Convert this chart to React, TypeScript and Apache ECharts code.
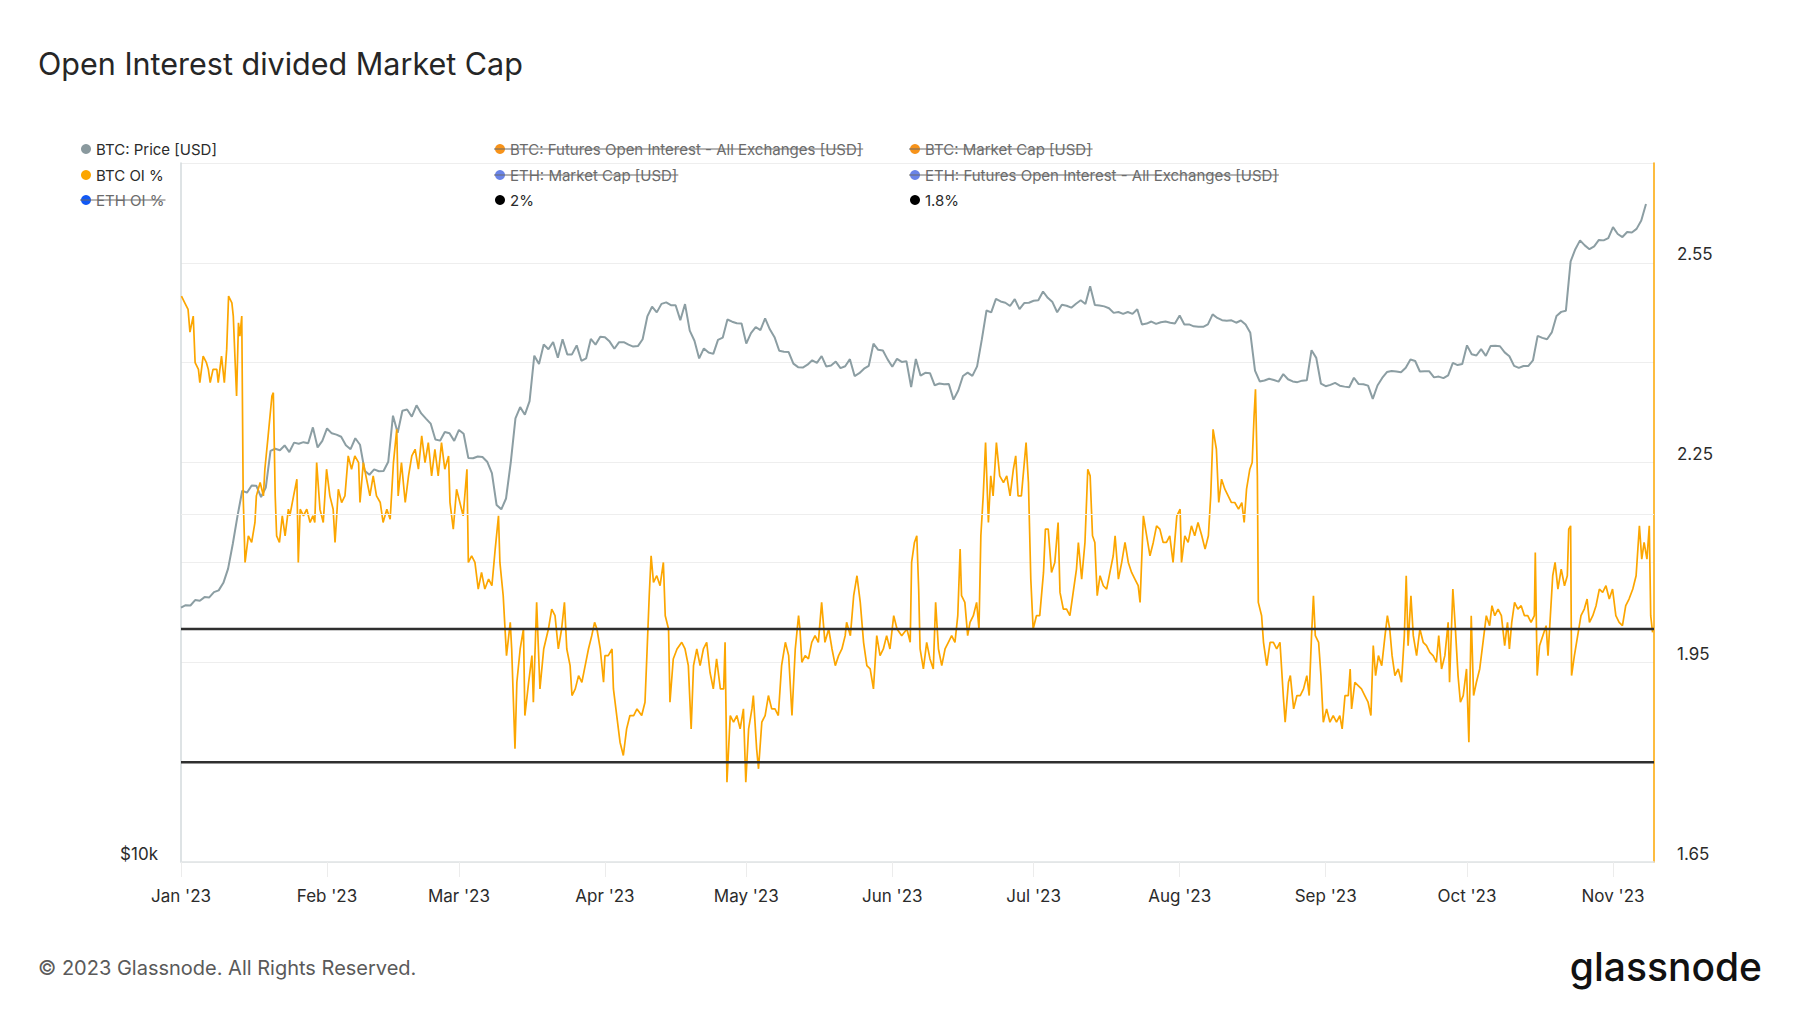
import React, { useEffect, useRef } from 'react';
import * as echarts from 'echarts';

// ---------- DATA ----------
const START = Date.UTC(2023, 0, 1);
const DAY = 86400000;
const X_END_DAY = 312.7;

const titleText = 'Open Interest divided Market Cap';
const footerText = '\u00A9 2023 Glassnode. All Rights Reserved.';
const logoText = 'glassnode';
const monthNames = ['Jan', 'Feb', 'Mar', 'Apr', 'May', 'Jun', 'Jul', 'Aug', 'Sep', 'Oct', 'Nov', 'Dec'];

// BTC price (USD), daily from 2023-01-01
const priceJan = [16600, 16680, 16670, 16850, 16830, 16950, 16940, 17120, 17180, 17440, 17940, 18850, 19930, 20950, 20870, 21170, 21160, 20690, 21080, 22680, 22780, 22710, 22930, 22630, 23060, 23010, 23080, 23030, 23770, 22840, 23140];
const priceFeb = [23720, 23490, 23430, 23330, 22940, 22760, 23260, 22960, 21800, 21630, 21860, 21780, 21790, 22200, 24330, 23520, 24570, 24630, 24280, 24840, 24440, 24190, 23950, 23200, 23150, 23550, 23490, 23140];
const priceMar = [23650, 23470, 22360, 22350, 22430, 22410, 22200, 21700, 20360, 20190, 20630, 22160, 24200, 24750, 24380, 25050, 27420, 26970, 28040, 27770, 28180, 27310, 28330, 27490, 27490, 27990, 27140, 27270, 28350, 28030, 28480];
const priceApr = [28450, 28200, 27800, 28170, 28170, 28030, 27920, 27950, 28330, 29650, 30230, 29890, 30400, 30490, 30320, 30320, 29430, 30390, 28820, 28250, 27270, 27820, 27590, 27520, 28300, 28420, 29470, 29340, 29250, 29230];
const priceMay = [28090, 28680, 29030, 28850, 29530, 28900, 28450, 27690, 27630, 27620, 26990, 26800, 26780, 26930, 27170, 27030, 27400, 26830, 26890, 27100, 26750, 26850, 27230, 26330, 26480, 26720, 26870, 28080, 27740, 27700, 27220];
const priceJun = [26820, 27250, 27080, 27120, 25760, 27240, 26350, 26500, 26480, 25850, 25940, 25900, 25920, 25120, 25580, 26330, 26510, 26340, 26840, 28310, 30000, 29890, 30700, 30550, 30470, 30270, 30690, 30080, 30450, 30470];
const priceJul = [30590, 30620, 31160, 30770, 30510, 29900, 30350, 30290, 30170, 30410, 30620, 30390, 31480, 30330, 30300, 30250, 30140, 29860, 29910, 29800, 29910, 29800, 30080, 29180, 29230, 29350, 29210, 29310, 29350, 29280, 29230];
const priceAug = [29700, 29180, 29180, 29070, 29050, 29040, 29180, 29770, 29560, 29430, 29400, 29420, 29280, 29410, 29170, 28700, 26620, 26050, 26100, 26190, 26120, 26040, 26430, 26160, 26050, 26010, 26090, 26110, 27720, 27300, 25930];
const priceSep = [25800, 25870, 25970, 25830, 25780, 25750, 26240, 25910, 25900, 25830, 25160, 25840, 26230, 26540, 26600, 26570, 26530, 26770, 27210, 27130, 26570, 26580, 26580, 26260, 26300, 26220, 26370, 27030, 26910, 26970];
const priceOct = [27990, 27500, 27430, 27780, 27410, 27950, 27970, 27940, 27600, 27390, 26870, 26760, 26860, 26860, 27160, 28520, 28410, 28330, 28720, 29680, 29920, 29990, 33090, 33900, 34500, 34160, 33900, 34090, 34530, 34500, 34660];
const priceNov = [35420, 34940, 34730, 35080, 35050, 35300, 35900, 37100];

// BTC OI % : [day offset from 2023-01-01, percent]
const oiQ1 = [[0.1,2.50],[0.8,2.49],[1.5,2.48],[1.9,2.446],[2.6,2.47],[3.0,2.40],[3.7,2.39],[4.0,2.37],[4.7,2.41],[5.4,2.40],[5.8,2.39],[6.2,2.37],[6.8,2.39],[7.6,2.39],[7.9,2.37],[8.6,2.41],[9.2,2.37],[9.7,2.42],[10.1,2.50],[10.8,2.49],[11.1,2.47],[11.5,2.40],[11.8,2.35],[12.2,2.46],[12.5,2.44],[12.9,2.47],[13.2,2.20],[13.6,2.10],[14.3,2.14],[15.0,2.13],[15.7,2.16],[16.0,2.20],[16.8,2.22],[17.5,2.20],[17.8,2.24],[18.5,2.29],[19.3,2.35],[19.6,2.355],[20.0,2.20],[20.3,2.14],[20.9,2.13],[21.5,2.17],[22.1,2.14],[22.8,2.18],[23.1,2.17],[23.9,2.20],[24.6,2.225],[24.9,2.10],[25.3,2.18],[26.0,2.17],[26.7,2.18],[27.4,2.16],[28.0,2.17],[28.4,2.16],[28.8,2.25],[29.5,2.18],[30.2,2.16],[30.9,2.24],[31.6,2.20],[32.3,2.18],[32.7,2.13],[33.4,2.21],[34.1,2.19],[34.8,2.20],[35.5,2.26],[36.2,2.24],[36.9,2.26],[37.7,2.25],[38.0,2.19],[38.7,2.25],[39.4,2.225],[40.1,2.20],[40.8,2.23],[41.5,2.20],[42.3,2.19],[42.9,2.16],[43.7,2.18],[44.4,2.165],[45.1,2.25],[45.8,2.30],[46.1,2.20],[46.8,2.25],[47.6,2.19],[48.3,2.23],[49.0,2.26],[49.7,2.27],[50.4,2.24],[51.1,2.29],[51.8,2.25],[52.5,2.28],[53.2,2.23],[53.9,2.27],[54.6,2.23],[55.3,2.28],[56.0,2.24],[56.8,2.26],[57.1,2.19],[57.8,2.15],[58.5,2.21],[59.2,2.19],[59.9,2.17],[60.7,2.24],[61.0,2.10],[61.7,2.11],[62.4,2.10],[63.1,2.06],[63.8,2.085],[64.5,2.06],[65.3,2.075],[66.0,2.065],[66.7,2.12],[67.4,2.17],[67.7,2.10],[68.4,2.05],[69.1,1.96],[69.9,2.01],[70.2,1.97],[70.9,1.82],[71.3,1.92],[72.0,1.97],[72.7,2.00],[73.0,1.87],[73.8,1.92],[74.5,1.96],[74.8,1.89],[75.5,2.04],[76.2,1.91],[77.0,1.97],[78.0,2.00],[78.7,2.03],[79.4,2.02],[80.1,1.97],[80.8,2.00],[81.4,2.04],[81.9,1.97],[82.6,1.945],[83.0,1.90],[83.7,1.91],[84.4,1.93],[85.1,1.92],[85.8,1.945],[86.5,1.97],[87.2,1.99],[87.8,2.01],[88.3,2.00],[89.0,1.97]];
const oiQ2 = [[89.7,1.92],[90.0,1.96],[90.7,1.96],[91.5,1.97],[91.8,1.91],[92.5,1.87],[93.2,1.83],[93.9,1.81],[94.6,1.85],[95.3,1.87],[96.1,1.87],[96.8,1.88],[97.8,1.87],[98.5,1.89],[98.9,1.96],[99.4,2.05],[99.8,2.11],[100.3,2.07],[101.0,2.08],[101.7,2.065],[102.4,2.10],[102.8,2.02],[103.5,2.00],[103.8,1.89],[104.5,1.955],[105.3,1.97],[106.3,1.98],[107.0,1.97],[107.7,1.945],[108.3,1.85],[108.8,1.945],[109.5,1.97],[110.2,1.945],[110.9,1.97],[111.6,1.98],[112.3,1.935],[113.0,1.91],[113.7,1.955],[114.5,1.91],[115.2,1.91],[115.5,1.98],[115.9,1.77],[116.6,1.87],[117.3,1.86],[118.0,1.87],[118.7,1.85],[119.4,1.88],[119.9,1.77],[120.5,1.85],[121.2,1.88],[121.5,1.90],[122.2,1.82],[122.6,1.79],[123.3,1.86],[124.0,1.87],[124.7,1.90],[125.4,1.88],[126.1,1.88],[126.8,1.87],[127.5,1.945],[128.3,1.98],[129.0,1.96],[129.7,1.87],[130.4,1.97],[131.1,2.02],[131.4,2.00],[131.8,1.95],[132.5,1.96],[133.2,1.955],[133.9,1.98],[134.6,1.99],[135.3,1.98],[136.0,2.04],[136.7,1.98],[137.5,2.00],[138.2,1.97],[138.9,1.945],[139.6,1.96],[140.3,1.97],[141.0,1.99],[141.3,2.01],[142.1,1.99],[142.8,2.05],[143.5,2.08],[144.2,2.04],[144.9,1.98],[145.6,1.945],[146.3,1.94],[147.0,1.91],[147.7,1.99],[148.4,1.96],[149.1,1.97],[149.8,1.99],[150.5,1.97],[151.3,2.02],[152.0,2.00],[153.0,1.99],[154.1,2.00],[154.8,1.98],[155.1,2.10],[155.7,2.13],[156.2,2.14],[156.6,2.06],[156.9,1.97],[157.6,1.94],[158.3,1.98],[159.0,1.955],[159.7,1.94],[160.2,2.04],[160.8,1.97],[161.5,1.945],[162.2,1.97],[162.9,1.98],[163.6,1.99],[164.3,1.98],[164.9,2.02],[165.4,2.12],[165.7,2.05],[166.4,2.04],[167.0,1.99],[167.5,2.01],[168.2,2.02],[168.9,2.04],[169.4,2.00],[169.8,2.14],[170.3,2.20],[170.8,2.28],[171.4,2.16],[171.9,2.23],[172.4,2.20],[173.1,2.28],[173.8,2.23],[174.6,2.22],[175.3,2.23],[176.0,2.20],[176.7,2.24],[177.2,2.26],[177.7,2.20],[178.4,2.20],[179.4,2.28],[179.9,2.22],[180.4,2.075]];
const oiQ3 = [[180.9,2.00],[181.6,2.02],[182.3,2.02],[183.1,2.085],[183.5,2.15],[184.1,2.15],[184.8,2.085],[185.5,2.10],[186.2,2.16],[186.6,2.055],[187.3,2.03],[188.0,2.03],[188.7,2.02],[189.4,2.055],[190.1,2.09],[190.5,2.13],[191.2,2.075],[191.9,2.13],[192.5,2.24],[193.0,2.23],[193.5,2.14],[194.0,2.13],[194.5,2.05],[195.1,2.08],[195.8,2.065],[196.5,2.06],[197.2,2.085],[197.9,2.11],[198.3,2.14],[199.0,2.075],[199.7,2.10],[200.4,2.13],[201.1,2.10],[201.8,2.085],[202.5,2.075],[203.2,2.065],[203.6,2.04],[204.3,2.17],[205.0,2.14],[205.7,2.11],[206.4,2.13],[207.1,2.155],[207.8,2.15],[208.5,2.13],[209.2,2.13],[209.9,2.14],[210.6,2.10],[211.4,2.17],[212.1,2.18],[212.4,2.10],[213.1,2.14],[213.8,2.13],[214.5,2.155],[215.2,2.14],[215.9,2.16],[216.7,2.14],[217.4,2.12],[218.1,2.14],[218.6,2.20],[219.1,2.30],[219.8,2.27],[220.3,2.19],[220.9,2.225],[221.6,2.21],[222.3,2.20],[223.0,2.19],[223.7,2.19],[224.5,2.18],[225.2,2.19],[225.7,2.16],[226.2,2.21],[226.9,2.24],[227.4,2.25],[227.8,2.32],[228.1,2.36],[228.5,2.23],[228.7,2.04],[229.4,2.02],[229.8,1.98],[230.5,1.945],[231.2,1.98],[231.9,1.98],[232.6,1.97],[233.3,1.98],[234.0,1.90],[234.4,1.86],[235.1,1.92],[235.5,1.93],[236.2,1.88],[236.9,1.90],[237.6,1.90],[238.3,1.91],[239.0,1.93],[239.5,1.90],[240.0,1.99],[240.4,2.05],[240.8,1.99],[241.5,1.98],[242.0,1.93],[242.5,1.86],[243.2,1.88],[243.9,1.86],[244.6,1.87],[245.3,1.86],[246.0,1.87],[246.5,1.85],[247.1,1.90],[247.8,1.90],[248.2,1.94],[248.5,1.88],[249.2,1.92],[249.9,1.915],[250.6,1.91],[251.3,1.90],[252.0,1.89],[252.6,1.87],[253.1,1.975],[253.6,1.93],[254.2,1.96],[254.9,1.945],[255.6,1.99],[256.1,2.02],[256.6,2.00],[257.1,1.96],[257.7,1.93],[258.4,1.94],[259.1,1.92],[259.7,1.99],[260.1,2.08],[260.5,1.975],[261.1,2.05],[261.6,1.99],[262.3,1.96],[263.0,2.00],[263.7,1.98],[264.4,1.975],[265.1,1.965],[265.8,1.96],[266.5,1.95],[267.0,1.99],[267.6,1.94],[268.3,1.96],[269.0,2.01],[269.3,1.92],[270.0,2.06],[270.5,2.005],[271.1,1.93],[271.6,1.89],[272.2,1.90]];
const oiQ4 = [[272.9,1.94],[273.4,1.83],[273.9,2.02],[274.4,1.90],[275.0,1.92],[275.7,1.94],[276.4,1.98],[277.1,2.02],[277.8,2.005],[278.3,2.035],[278.9,2.02],[279.6,2.03],[280.3,2.02],[281.0,1.975],[281.6,2.01],[282.0,1.97],[282.5,2.01],[283.1,2.04],[283.8,2.03],[284.5,2.035],[285.2,2.02],[285.9,2.02],[286.6,2.01],[287.3,2.02],[287.5,2.115],[287.9,1.93],[288.4,1.975],[289.1,1.99],[289.8,2.005],[290.2,1.96],[290.7,2.02],[291.2,2.08],[291.7,2.10],[292.3,2.06],[293.0,2.09],[293.7,2.065],[294.3,2.08],[294.6,2.15],[295.0,2.155],[295.2,1.93],[295.8,1.96],[296.5,1.99],[297.2,2.02],[297.9,2.03],[298.5,2.045],[299.0,2.01],[299.7,2.02],[300.4,2.035],[301.1,2.06],[301.8,2.055],[302.5,2.065],[303.2,2.045],[303.9,2.06],[304.6,2.02],[305.3,2.01],[306.0,2.005],[306.7,2.035],[307.4,2.045],[308.2,2.06],[308.9,2.08],[309.6,2.155],[310.1,2.105],[310.6,2.13],[311.2,2.105],[311.7,2.155],[312.0,2.02],[312.4,1.995]];

const level2 = 2.0;
const level18 = 1.8;
const priceGridLevels = [20000];

const legendLabels = ['BTC: Price [USD]', 'BTC: Futures Open Interest - All Exchanges [USD]', 'BTC: Market Cap [USD]', 'BTC OI %', 'ETH: Market Cap [USD]', 'ETH: Futures Open Interest - All Exchanges [USD]', 'ETH OI %', '2%', '1.8%'];
const legendColors = ['#8a999e', '#f7931a', '#f7931a', '#fca600', '#6a84e8', '#6a84e8', '#1158f5', '#000000', '#000000'];
const legendActive = [true, false, false, true, false, false, false, true, true];

// ---------- STYLE ----------
const FONT = 'Inter, "Noto Sans", sans-serif';
const PRICE_COLOR = '#8c9ea3';
const OI_COLOR = '#fca600';
const LEVEL_COLOR = '#2f2f2f';
const AXIS_FONT_SIZE = 17;

function measure(text: string, font: string): number {
  const c = document.createElement('canvas').getContext('2d');
  if (!c) return text.length * 7.5;
  c.font = font;
  return c.measureText(text).width;
}

export default function App() {
  const ref = useRef<HTMLDivElement>(null);
  useEffect(() => {
    if (!ref.current) return;
    const chart = echarts.init(ref.current, undefined, { renderer: 'svg' });

    const prices = [...priceJan, ...priceFeb, ...priceMar, ...priceApr, ...priceMay, ...priceJun, ...priceJul, ...priceAug, ...priceSep, ...priceOct, ...priceNov];
    const priceData = prices.map((p, i) => [START + i * DAY, p]);
    const oi = [...oiQ1, ...oiQ2, ...oiQ3, ...oiQ4];
    const oiData = oi.map(([d, v]) => [START + d * DAY, v]);
    const xMax = START + X_END_DAY * DAY;

    // legend as graphic (strike-through for hidden series)
    const colX = [86, 500, 915];
    const rowY = [149, 175, 200];
    const legendFont = '15px Inter';
    const legendEls: any[] = [];
    legendLabels.forEach((lab, i) => {
      const cx = colX[i % 3];
      const cy = rowY[Math.floor(i / 3)];
      const tx = cx + 10;
      legendEls.push({ type: 'circle', shape: { cx, cy, r: 5 }, style: { fill: legendColors[i] }, silent: true });
      legendEls.push({
        type: 'text', x: tx, y: cy,
        style: { text: lab, fill: legendActive[i] ? '#2b2b2b' : '#6b6b6b', fontFamily: FONT, fontSize: 15, verticalAlign: 'middle', align: 'left' },
        silent: true,
      });
      if (!legendActive[i]) {
        const w = measure(lab, legendFont);
        legendEls.push({ type: 'line', shape: { x1: cx - 6, y1: cy, x2: tx + w + 1, y2: cy }, style: { stroke: '#6b6b6b', lineWidth: 1 }, silent: true });
      }
    });

    const option: any = {
      animation: false,
      useUTC: true,
      backgroundColor: '#ffffff',
      title: {
        text: titleText, left: 38, top: 48, padding: 0,
        textStyle: { fontFamily: FONT, fontSize: 30.5, fontWeight: 400, color: '#262626' },
      },
      grid: { left: 181, right: 146, top: 163, bottom: 151, containLabel: false },
      xAxis: {
        type: 'time', min: START, max: xMax,
        splitNumber: 11, minInterval: 28 * DAY, maxInterval: 31 * DAY,
        axisLine: { show: true, lineStyle: { color: '#dfe3e5', width: 1.5 } },
        axisTick: { show: true, length: 15, lineStyle: { color: '#ececec', width: 1 } },
        splitLine: { show: false },
        axisLabel: {
          fontFamily: FONT, fontSize: AXIS_FONT_SIZE, color: '#2b2b2b', margin: 25, showMaxLabel: false,
          formatter: (v: number) => {
            const d = new Date(v);
            return monthNames[d.getUTCMonth()] + " '" + String(d.getUTCFullYear()).slice(2);
          },
        },
      },
      yAxis: [
        {
          type: 'log', logBase: 10, min: 10000, max: 40250, position: 'left',
          axisLine: { show: true, lineStyle: { color: '#d3dadd', width: 1.5 } },
          axisTick: { show: false }, splitLine: { show: false },
          axisLabel: {
            fontFamily: FONT, fontSize: AXIS_FONT_SIZE, color: '#2b2b2b', margin: 23, verticalAlign: 'bottom',
            formatter: (v: number) => (Math.abs(v - 10000) < 1 ? '$10k' : ''),
          },
        },
        {
          type: 'value', min: 1.65, max: 2.7, interval: 0.15, position: 'right',
          axisLine: { show: true, lineStyle: { color: OI_COLOR, width: 1.5 } },
          axisTick: { show: false },
          splitLine: { show: true, lineStyle: { color: '#eeeeee', width: 1 } },
          axisLabel: {
            fontFamily: FONT, fontSize: AXIS_FONT_SIZE, color: '#2b2b2b', margin: 23, verticalAlign: 'bottom',
            formatter: (v: number) => {
              const k = Math.round((v - 1.65) / 0.15);
              return k % 2 === 0 && k < 7 ? v.toFixed(2) : '';
            },
          },
        },
      ],
      series: [
        {
          name: 'BTC: Price [USD]', type: 'line', yAxisIndex: 0, data: priceData,
          showSymbol: false, symbol: 'none', z: 2,
          lineStyle: { color: PRICE_COLOR, width: 2 }, itemStyle: { color: PRICE_COLOR },
          markLine: {
            silent: true, symbol: ['none', 'none'], label: { show: false },
            lineStyle: { color: '#eeeeee', width: 1, type: 'solid' },
            data: priceGridLevels.map((p) => ({ yAxis: p })),
          },
        },
        {
          name: 'BTC OI %', type: 'line', yAxisIndex: 1, data: oiData,
          showSymbol: false, symbol: 'none', z: 3,
          lineStyle: { color: OI_COLOR, width: 1.7 }, itemStyle: { color: OI_COLOR },
        },
        {
          name: '2%', type: 'line', yAxisIndex: 1, data: [[START, level2], [xMax, level2]],
          showSymbol: false, symbol: 'none', z: 4,
          lineStyle: { color: LEVEL_COLOR, width: 2.5 },
        },
        {
          name: '1.8%', type: 'line', yAxisIndex: 1, data: [[START, level18], [xMax, level18]],
          showSymbol: false, symbol: 'none', z: 4,
          lineStyle: { color: LEVEL_COLOR, width: 2.5 },
        },
      ],
      graphic: [
        ...legendEls,
        {
          type: 'text', x: 38, y: 968, silent: true,
          style: { text: footerText, fill: '#5a5a5a', fontFamily: FONT, fontSize: 20, verticalAlign: 'middle' },
        },
        {
          type: 'text', x: 1762, y: 966, silent: true,
          style: { text: logoText, fill: '#111111', fontFamily: FONT, fontSize: 39, fontWeight: 500, align: 'right', verticalAlign: 'middle' },
        },
      ],
    };
    chart.setOption(option);
    return () => chart.dispose();
  }, []);

  return <div ref={ref} style={{ position: 'fixed', left: 0, top: 0, width: 1800, height: 1013, background: '#fff' }} />;
}
